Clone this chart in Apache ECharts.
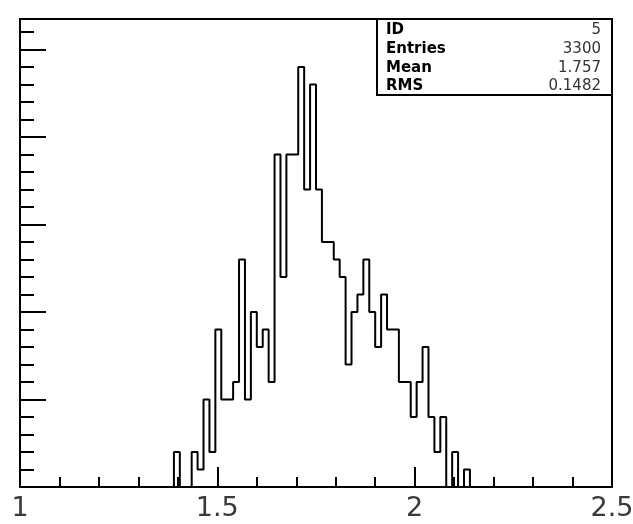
<!DOCTYPE html>
<html><head><meta charset="utf-8">
<script src="https://cdn.jsdelivr.net/npm/echarts@6/dist/echarts.min.js"></script>
<style>html,body{margin:0;padding:0;background:#fff}#c{width:633px;height:524px}</style>
</head><body><div id="c"></div>
<script>
// Histogram: 100 bins from 1.0 to 2.5
const xMin = 1.0;
const xMax = 2.5;
const binWidth = 0.015;
const counts = [
  0,0,0,0,0,0,0,0,0,0,
  0,0,0,0,0,0,0,0,0,0,
  0,0,0,0,0,0,2,0,0,2,
  1,5,2,9,5,5,6,13,5,10,
  8,9,6,19,12,19,19,24,17,23,
  17,14,14,13,12,7,10,11,13,10,
  8,11,9,9,6,6,4,6,8,4,
  2,4,0,2,0,1,0,0,0,0,
  0,0,0,0,0,0,0,0,0,0,
  0,0,0,0,0,0,0,0,0,0
];
const yMax = 26.74;
const xTickStep = 0.5;
const statLabels = ['ID', 'Entries', 'Mean', 'RMS'];
const statValues = ['5', '3300', '1.757', '0.1482'];

const stepData = counts.map((c, i) => [+(xMin + i * binWidth).toFixed(4), c]);
stepData.push([xMax, counts[counts.length - 1]]);

const chart = echarts.init(document.getElementById('c'), null, {renderer: 'canvas'});
const statRowsY = [30, 49.3, 68.3, 86];
const graphics = [{
  type: 'rect', z: 100,
  shape: {x: 377, y: 19, width: 235, height: 76},
  style: {fill: '#fff', stroke: '#000', lineWidth: 2}
}];
statLabels.forEach((t, i) => {
  graphics.push({type: 'text', z: 101, x: 386, y: statRowsY[i],
    style: {text: t, fill: '#000', font: 'bold 15px "DejaVu Sans"', textAlign: 'left', textVerticalAlign: 'middle'}});
  graphics.push({type: 'text', z: 101, x: 601, y: statRowsY[i],
    style: {text: statValues[i], fill: '#333', font: '15px "DejaVu Sans"', textAlign: 'right', textVerticalAlign: 'middle'}});
});

chart.setOption({
  animation: false,
  backgroundColor: '#fff',
  grid: {left: 20, right: 21, top: 19, bottom: 37, containLabel: false, outerBoundsMode: 'none',
    show: true, borderColor: '#000', borderWidth: 2, backgroundColor: 'transparent'},
  xAxis: {
    type: 'value', min: xMin, max: xMax, interval: xTickStep,
    axisLine: {show: true, onZero: false, lineStyle: {color: '#000', width: 2}},
    axisTick: {show: true, inside: true, length: 20, lineStyle: {color: '#000', width: 2}},
    minorTick: {show: true, splitNumber: 5, length: 10, lineStyle: {color: '#000', width: 2}},
    splitLine: {show: false},
    axisLabel: {show: true, showMinLabel: true, showMaxLabel: true, margin: 8, color: '#3a3a3a',
      fontFamily: 'DejaVu Sans', fontSize: 27, formatter: v => String(v)}
  },
  yAxis: [{
    type: 'value', min: 0, max: yMax, interval: 5, position: 'left',
    axisLine: {show: true, lineStyle: {color: '#000', width: 2}},
    axisTick: {show: true, inside: true, length: 26, lineStyle: {color: '#000', width: 2}},
    axisLabel: {show: false}, splitLine: {show: false}
  }, {
    type: 'value', min: 0, max: yMax, interval: 1, position: 'left', offset: 0,
    axisLine: {show: false},
    axisTick: {show: true, inside: true, length: 14, lineStyle: {color: '#000', width: 2}},
    axisLabel: {show: false}, splitLine: {show: false}
  }],
  series: [{
    type: 'line', step: 'end', data: stepData, yAxisIndex: 0,
    symbol: 'none', silent: true, clip: true,
    lineStyle: {color: '#000', width: 2}
  }],
  graphic: graphics
});
</script></body></html>
